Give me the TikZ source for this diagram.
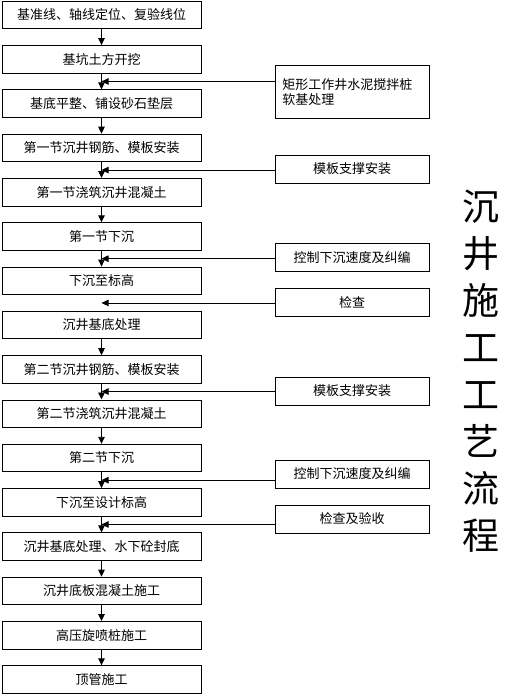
\documentclass[tikz,border=0pt]{standalone}
\usepackage{fontspec}
\setmainfont{Noto Sans CJK SC}
\usetikzlibrary{positioning,arrows.meta,calc}

\tikzset{
    procbox/.style={draw, line width=0.9pt, minimum width=199pt, minimum height=27.5pt,
        inner sep=0pt, font=\fontsize{13}{15}\selectfont},
    sidebox/.style={draw, line width=0.9pt, minimum width=154pt, minimum height=28pt,
        inner sep=0pt, font=\fontsize{13}{15}\selectfont},
    flow/.style={line width=0.9pt, -{Triangle[length=7pt,width=6.5pt]}},
}

\begin{document}
\begin{tikzpicture}[x=1pt, y=-1pt, node distance=15.9pt]
    \useasboundingbox (0,0) rectangle (524,695);

    % main steps
    \node[procbox] (s1) at (101.5,15) {基准线、轴线定位、复验线位};
    \node[procbox, below=of s1] (s2) {基坑土方开挖};
    \node[procbox, below=of s2] (s3) {基底平整、铺设砂石垫层};
    \node[procbox, below=of s3] (s4) {第一节沉井钢筋、模板安装};
    \node[procbox, below=of s4] (s5) {第一节浇筑沉井混凝土};
    \node[procbox, below=of s5] (s6) {第一节下沉};
    \node[procbox, below=of s6] (s7) {下沉至标高};
    \node[procbox, below=of s7] (s8) {沉井基底处理};
    \node[procbox, below=of s8] (s9) {第二节沉井钢筋、模板安装};
    \node[procbox, below=of s9] (s10) {第二节浇筑沉井混凝土};
    \node[procbox, below=of s10] (s11) {第二节下沉};
    \node[procbox, below=of s11] (s12) {下沉至设计标高};
    \node[procbox, below=of s12] (s13) {沉井基底处理、水下砼封底};
    \node[procbox, below=of s13] (s14) {沉井底板混凝土施工};
    \node[procbox, below=of s14] (s15) {高压旋喷桩施工};
    \node[procbox, below=of s15] (s16) {顶管施工};

    % joints between steps
    \foreach \a/\b in {2/3,4/5,6/7,7/8,9/10,11/12,12/13}
        \coordinate (j\a) at ($(s\a.south)!0.5!(s\b.north)$);

    % side tasks
    \node[sidebox, minimum height=53pt, text width=140pt, align=left,
        anchor=north west] (r1) at (275,65) {矩形工作井水泥搅拌桩\\软基处理};
    \node[sidebox] (r2) at (352,169) {模板支撑安装};
    \node[sidebox] (r3) at (352,257.5) {控制下沉速度及纠编};
    \node[sidebox] (r4) at (352,302.5) {检查};
    \node[sidebox] (r5) at (352,391) {模板支撑安装};
    \node[sidebox] (r6) at (352,474) {控制下沉速度及纠编};
    \node[sidebox] (r7) at (352,519) {检查及验收};

    % arrows
    \foreach \a/\b in {1/2,2/3,3/4,4/5,5/6,6/7,8/9,9/10,10/11,11/12,12/13,13/14,14/15,15/16}
        \draw[flow] (s\a.south) -- (s\b.north);
    \foreach \r/\j in {r1/2,r2/4,r3/6,r4/7,r5/9,r6/11,r7/12}
        \draw[flow] (\r.west |- j\j) -- (j\j);

    % title
    \node[align=center, font=\fontsize{37}{47}\selectfont] (title) at (481,371)
        {沉\\井\\施\\工\\工\\艺\\流\\程};
\end{tikzpicture}
\end{document}
